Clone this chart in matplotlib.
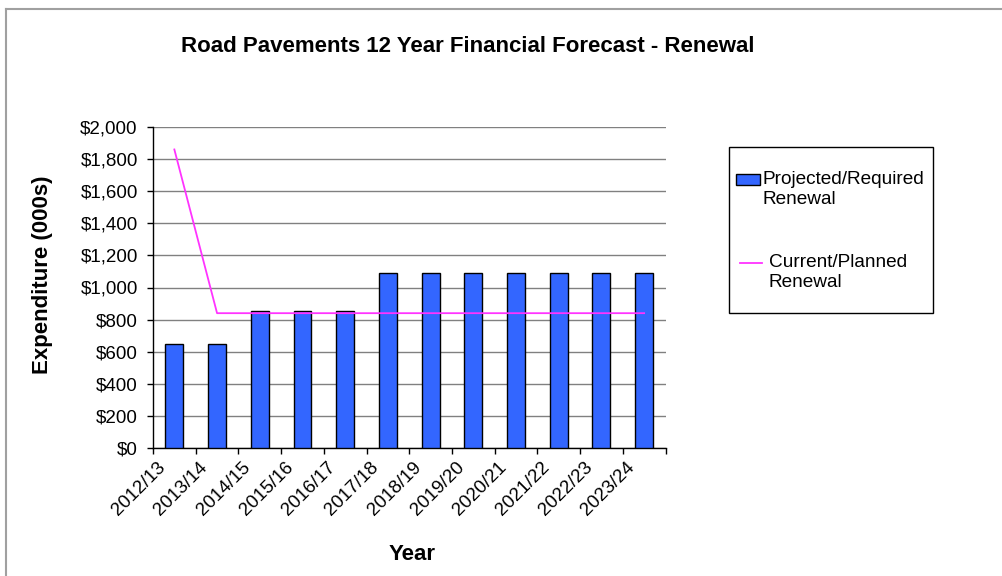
import matplotlib
matplotlib.use('Agg')
import matplotlib.pyplot as plt
import matplotlib.transforms as mtransforms
from matplotlib.patches import Rectangle
from matplotlib.lines import Line2D
from matplotlib.ticker import FuncFormatter

plt.rcParams['font.family'] = ['Liberation Sans', 'DejaVu Sans']

# Renewal expenditure, $000s
years = ['2012/13', '2013/14', '2014/15', '2015/16', '2016/17', '2017/18',
         '2018/19', '2019/20', '2020/21', '2021/22', '2022/23', '2023/24']
projected = [650, 650, 855, 855, 855, 1088, 1088, 1088, 1088, 1088, 1088, 1088]
planned = [1860, 840, 840, 840, 840, 840, 840, 840, 840, 840, 840, 840]

bar_color = '#3366ff'
line_color = '#ff33ff'
grid_color = '#808080'

W, H = 1003, 576
fig = plt.figure(figsize=(W / 100, H / 100), dpi=100)


def fx(px):
    return px / W


def fy(py):
    return 1 - py / H


ax = fig.add_axes([fx(153), fy(448), fx(665.5) - fx(153), fy(127) - fy(448)])

pos = [i + 0.5 for i in range(len(years))]
ax.bar(pos, projected, width=0.42, color=bar_color, edgecolor='black',
       linewidth=1, zorder=3)
ax.plot(pos, planned, color=line_color, linewidth=1.3, zorder=4)

ax.set_xlim(0, len(years))
ax.set_ylim(0, 2000)
ax.set_yticks(range(0, 2001, 200))
ax.yaxis.set_major_formatter(FuncFormatter(lambda v, _: f'${v:,.0f}'))
ax.grid(axis='y', color=grid_color, linewidth=1, zorder=0)
ax.set_axisbelow(True)

for side in ['top', 'right']:
    ax.spines[side].set_visible(False)
for side in ['left', 'bottom']:
    ax.spines[side].set_color('black')
    ax.spines[side].set_linewidth(1)

ax.tick_params(axis='y', length=4.5, width=1, pad=6.5, labelsize=13.5)
ax.tick_params(axis='x', length=4.5, width=1, pad=3, labelsize=13.5)

# category labels hang off the left tick of each slot
ax.set_xticks(range(len(years) + 1))
ax.set_xticklabels(years + [''], rotation=45, ha='right', va='top',
                   rotation_mode='anchor')
shift = mtransforms.ScaledTranslation(0.035, 0, fig.dpi_scale_trans)
for lbl in ax.get_xticklabels():
    lbl.set_transform(lbl.get_transform() + shift)

fig.text(fx(468), fy(47), 'Road Pavements 12 Year Financial Forecast - Renewal',
         ha='center', va='center', fontsize=16, fontweight='bold')
fig.text(fx(43), fy(275), 'Expenditure (000s)', rotation=90,
         ha='center', va='center', fontsize=16, fontweight='bold')
fig.text(fx(412), fy(555), 'Year', ha='center', va='center',
         fontsize=16, fontweight='bold')

# legend box
fig.patches.append(Rectangle((fx(729), fy(313)), fx(933) - fx(729), fy(147) - fy(313),
                             transform=fig.transFigure, facecolor='white',
                             edgecolor='black', linewidth=1))
fig.patches.append(Rectangle((fx(736), fy(185)), fx(760) - fx(736), fy(174) - fy(185),
                             transform=fig.transFigure, facecolor=bar_color,
                             edgecolor='black', linewidth=1))
fig.text(fx(763), fy(171), 'Projected/Required\nRenewal', ha='left', va='top',
         fontsize=13.7, linespacing=1.25)
fig.lines.append(Line2D([fx(740), fx(762)], [fy(263), fy(263)],
                        transform=fig.transFigure, color=line_color, linewidth=1.3))
fig.text(fx(769), fy(254), 'Current/Planned\nRenewal', ha='left', va='top',
         fontsize=13.7, linespacing=1.25)

# outer chart border
fig.lines.append(Line2D([fx(6), fx(6)], [fy(9), 0], transform=fig.transFigure,
                        color='#a0a0a0', linewidth=1.5))
fig.lines.append(Line2D([fx(6), 1], [fy(9), fy(9)], transform=fig.transFigure,
                        color='#a0a0a0', linewidth=1.5))

fig.savefig('out.png', dpi=100)
